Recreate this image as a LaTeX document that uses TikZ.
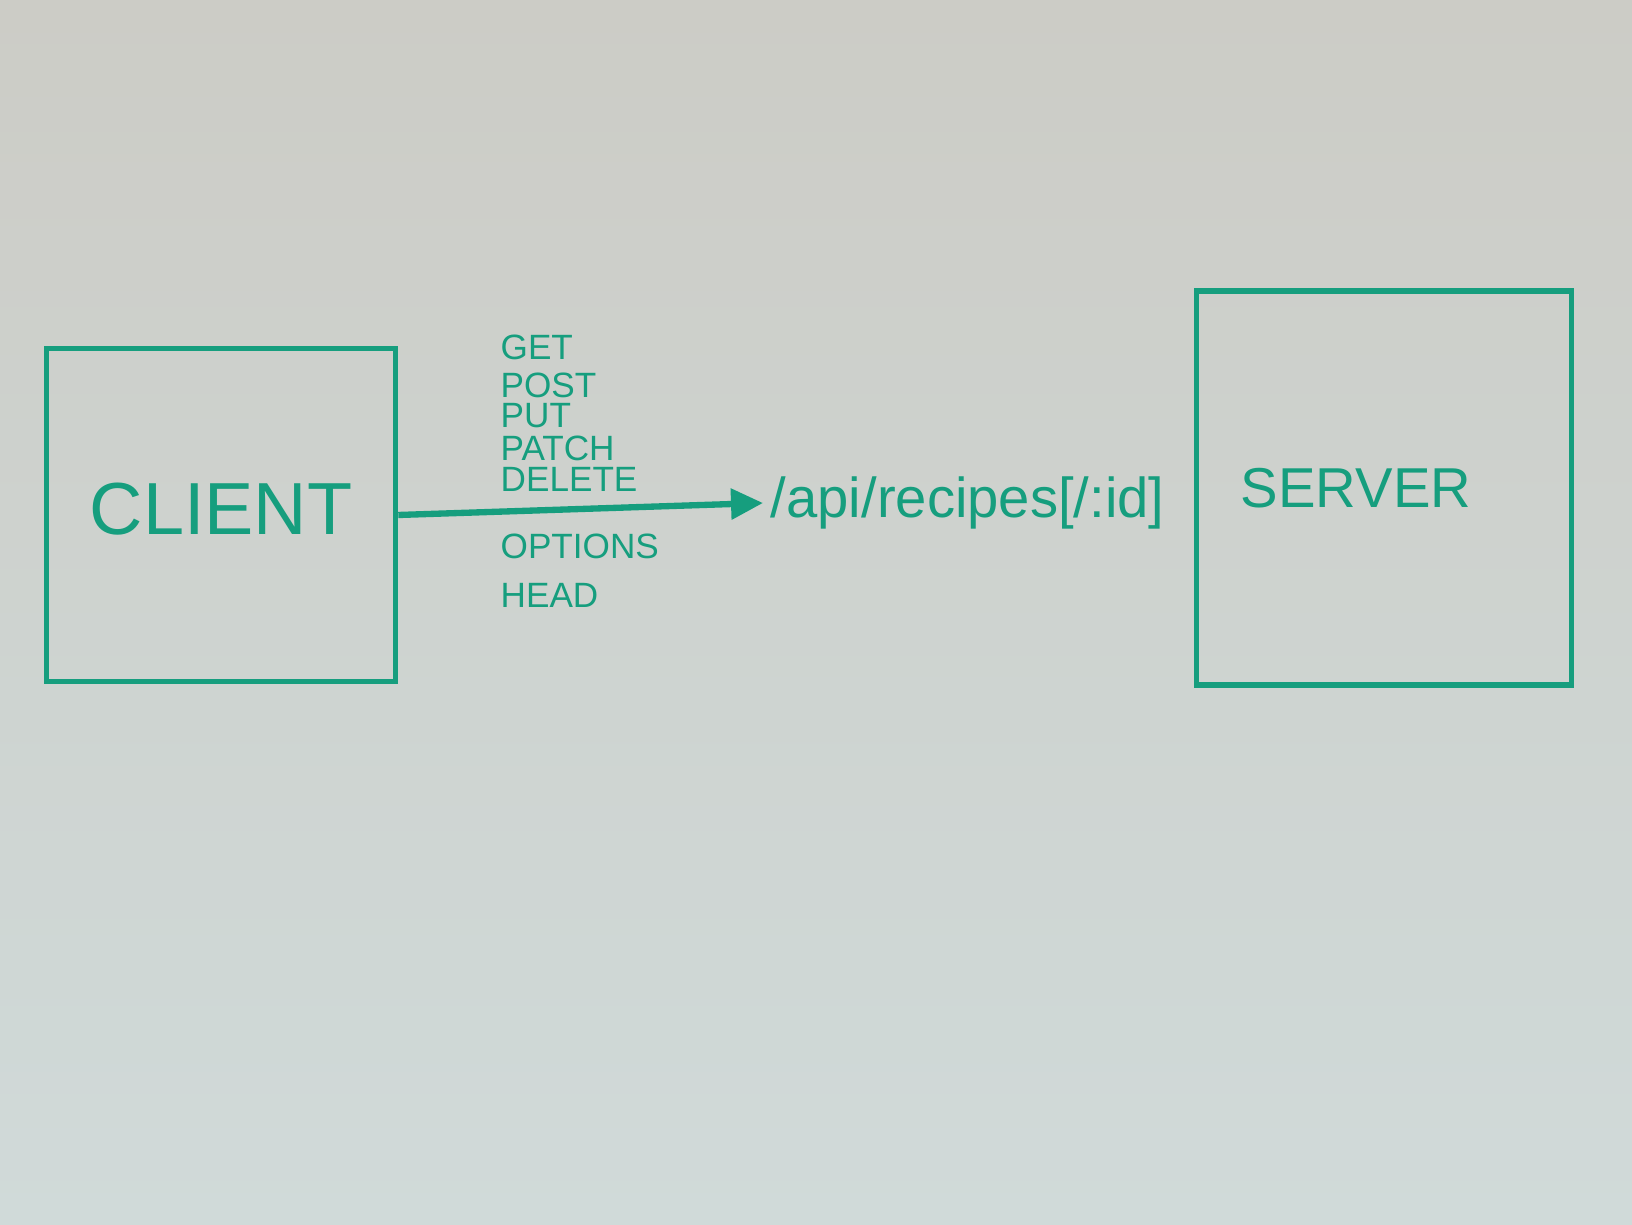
\documentclass[tikz,border=0pt]{standalone}
\usepackage{fontspec}
\setmainfont{Liberation Sans}
\usetikzlibrary{arrows.meta,positioning}
\definecolor{marker}{RGB}{22,158,126}
\definecolor{boardtop}{RGB}{204,204,198}
\definecolor{boardbot}{RGB}{208,218,217}
\tikzset{
  box/.style={draw=marker,line width=1.6pt,rectangle,text=marker},
  verb/.style={text=marker,font=\fontsize{10}{10}\selectfont,anchor=west,inner sep=0pt},
  flow/.style={draw=marker,line width=1.8pt,-{Triangle[length=0.32cm,width=0.3cm]}}
}
\begin{document}
\begin{tikzpicture}
% whiteboard
\shade[top color=boardtop,bottom color=boardbot] (0,0) rectangle (16.32,12.24);
\useasboundingbox (0,0) rectangle (16.32,12.24);
\node[box,minimum width=3.49cm,minimum height=3.33cm,font=\fontsize{21}{21}\selectfont] (client) at (2.21,7.09) {\raisebox{0.12cm}{CLIENT}};
\node[box,minimum width=3.75cm,minimum height=3.94cm,font=\fontsize{16}{16}\selectfont] (server) at (13.84,7.36) {\kern-0.56cm\raisebox{-0.12cm}{SERVER}};
\node[text=marker,font=\fontsize{16}{16}\selectfont,anchor=west,inner sep=2pt] (api) at (7.63,7.21) {/api/recipes[/:id]};
\draw[flow] (client.east) -- (api.west);
% methods above and below the arrow
\foreach \verbname/\ypos in {GET/8.77,POST/8.39,PUT/8.08,PATCH/7.76,DELETE/7.45,OPTIONS/6.78,HEAD/6.29}{
  \node[verb] (m-\verbname) at (5.0,\ypos) {\verbname};
}
\end{tikzpicture}
\end{document}
